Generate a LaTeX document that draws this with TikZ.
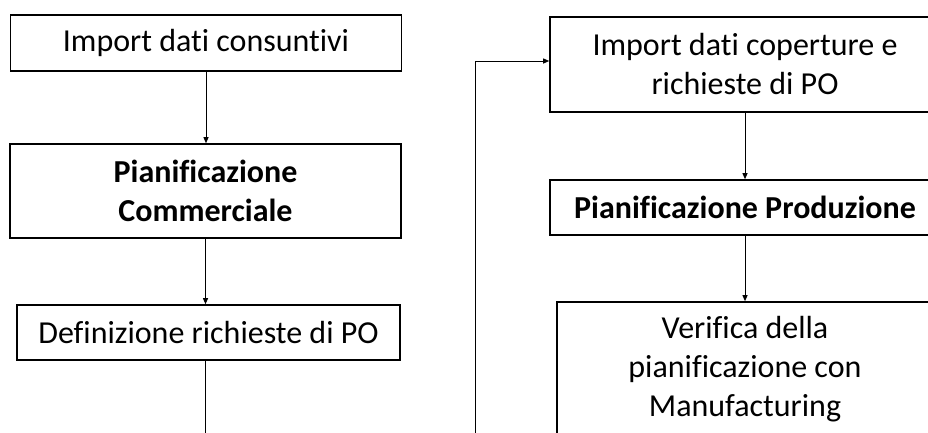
\documentclass[tikz,border=0pt]{standalone}
\usepackage{fontspec}
\setmainfont[Ligatures={NoCommon,NoRare,NoContextual}]{Carlito}
\usetikzlibrary{arrows.meta}
\begin{document}
\begin{tikzpicture}[x=1pt,y=-1pt,
  box/.style={draw=black, line width=1.6pt, fill=white, inner sep=0pt,
    align=center, font=\fontsize{32}{39}\selectfont},
  link/.style={draw=black, line width=0.9pt,
    -{Triangle[length=6pt,width=5pt]}},
  plain/.style={draw=black, line width=0.9pt}]
\useasboundingbox (0,0) rectangle (928,432);
\clip (0,0) rectangle (928,432);

% left column: commercial planning
\node[box, minimum width=391pt, minimum height=56pt] (b1) at (206,43)
  {Import dati consuntivi};
\node[box, minimum width=391pt, minimum height=94pt] (b2) at (205.5,191)
  {\textbf{Pianificazione}\\\textbf{Commerciale}};
\node[box, minimum width=383pt, minimum height=55pt] (b3) at (208.5,332.5)
  {Definizione richieste di PO};

% right column: production planning
\node[box, minimum width=390pt, minimum height=95pt] (b4) at (745,64.5)
  {Import dati coperture e\\richieste di PO};
\node[box, minimum width=390pt, minimum height=55pt] (b5) at (745,207.5)
  {\textbf{Pianificazione Produzione}};
\node[box, minimum width=376pt, minimum height=134pt] (b6) at (745,369)
  {Verifica della\\pianificazione con\\Manufacturing};

% connectors
\draw[link] (b1.south) -- (b1.south |- b2.north);
\draw[link] (b2.south) -- (b2.south |- b3.north);
\draw[plain] (b3.south -| b2.south) -- ++(0,80);
\draw[link] (b4.south) -- (b5.north);
\draw[link] (b5.south) -- (b6.north);

% feedback line entering the top right box
\coordinate (loop) at (475,440);
\draw[link] (loop) |- ([yshift=3.5pt]b4.west);
\end{tikzpicture}
\end{document}
